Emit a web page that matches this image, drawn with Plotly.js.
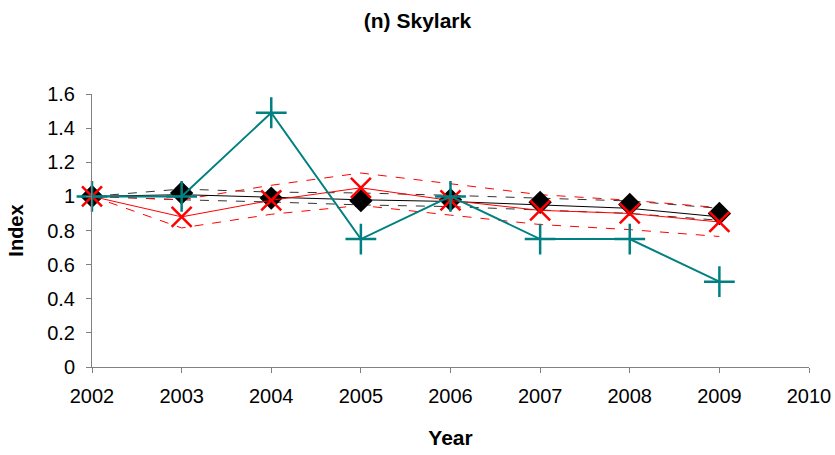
<!DOCTYPE html>
<html>
<head>
<meta charset="utf-8">
<script src="https://cdn.plot.ly/plotly-3.0.1.min.js"></script>
<style>
  html, body { margin: 0; padding: 0; background: #ffffff; }
  #chart { width: 835px; height: 455px; }
</style>
</head>
<body>
<div id="chart"></div>
<script>
// Skylark population indices, 2002 = 1
const years = [2002, 2003, 2004, 2005, 2006, 2007, 2008, 2009];

// Black series: annual index (diamonds), smoothed trend and its limits
const blackIndex = [1.00, 1.02, 0.99, 0.975, 0.98, 0.965, 0.953, 0.90];
const blackTrend = [1.00, 1.01, 0.995, 0.98, 0.97, 0.95, 0.93, 0.88];
const blackUpper = [1.00, 1.043, 1.025, 1.02, 1.006, 0.99, 0.973, 0.93];
const blackLower = [1.00, 0.98, 0.967, 0.95, 0.94, 0.92, 0.90, 0.86];

// Red series: annual index (crosses) and its limits
const redIndex = [1.00, 0.88, 0.977, 1.05, 0.976, 0.918, 0.90, 0.85];
const redUpper = [1.00, 0.98, 1.065, 1.137, 1.074, 1.01, 0.977, 0.934];
const redLower = [1.00, 0.815, 0.895, 0.947, 0.89, 0.835, 0.805, 0.765];

// Teal series: annual index (plus signs)
const tealIndex = [1.00, 1.00, 1.49, 0.75, 1.00, 0.75, 0.75, 0.50];

const xTicks = [2002, 2003, 2004, 2005, 2006, 2007, 2008, 2009, 2010];
const yTicks = [0, 0.2, 0.4, 0.6, 0.8, 1, 1.2, 1.4, 1.6];

const line = (y, color, dash, width) => ({
  x: years, y: y, type: 'scatter', mode: 'lines', hoverinfo: 'skip',
  line: { color: color, dash: dash, width: width }, cliponaxis: false
});

const traces = [
  line(blackUpper, '#333333', 'dash', 1),
  line(blackLower, '#333333', 'dash', 1),
  line(redUpper, '#ff0000', 'dash', 1),
  line(redLower, '#ff0000', 'dash', 1),
  line(blackTrend, '#000000', 'solid', 1),
  {
    x: years, y: blackIndex, type: 'scatter', mode: 'markers', cliponaxis: false,
    marker: { symbol: 'diamond', size: 18, color: '#000000' }
  },
  {
    x: years, y: redIndex, type: 'scatter', mode: 'lines+markers', cliponaxis: false,
    line: { color: '#ff0000', width: 1 },
    marker: { symbol: 'x-thin', size: 20, line: { color: '#ff0000', width: 2.5 } }
  },
  {
    x: years, y: tealIndex, type: 'scatter', mode: 'lines+markers', cliponaxis: false,
    line: { color: '#008080', width: 2 },
    marker: { symbol: 'cross-thin', size: 22, line: { color: '#008080', width: 2.5 } }
  }
];

const fam = 'Liberation Sans, Arial, sans-serif';

const layout = {
  width: 835, height: 455,
  margin: { l: 92, r: 26, t: 94, b: 88 },
  paper_bgcolor: '#ffffff', plot_bgcolor: '#ffffff',
  showlegend: false,
  font: { family: fam, color: '#000000' },
  title: {
    text: '<b>(n) Skylark</b>',
    font: { family: fam, size: 21, color: '#000000' },
    x: 0.5, xanchor: 'center', y: 0.955, yanchor: 'middle'
  },
  xaxis: {
    range: [2002, 2010], tickvals: xTicks, ticktext: xTicks.map(String),
    showgrid: false, zeroline: false,
    showline: true, linecolor: '#808080', linewidth: 1,
    ticks: 'outside', ticklen: 5, tickcolor: '#808080',
    ticklabelstandoff: 6,
    tickfont: { family: fam, size: 20, color: '#000000' },
    title: { text: '<b>Year</b>', font: { family: fam, size: 21 }, standoff: 24 }
  },
  yaxis: {
    range: [0, 1.6], tickvals: yTicks, ticktext: yTicks.map(String),
    showgrid: false, zeroline: false,
    showline: true, linecolor: '#808080', linewidth: 1,
    ticks: 'outside', ticklen: 5, tickcolor: '#808080',
    ticklabelstandoff: 7,
    tickfont: { family: fam, size: 20, color: '#000000' },
    title: { text: '<b>Index</b>', font: { family: fam, size: 20 }, standoff: 18 }
  }
};

Plotly.newPlot('chart', traces, layout, { staticPlot: true, displayModeBar: false });
</script>
</body>
</html>
